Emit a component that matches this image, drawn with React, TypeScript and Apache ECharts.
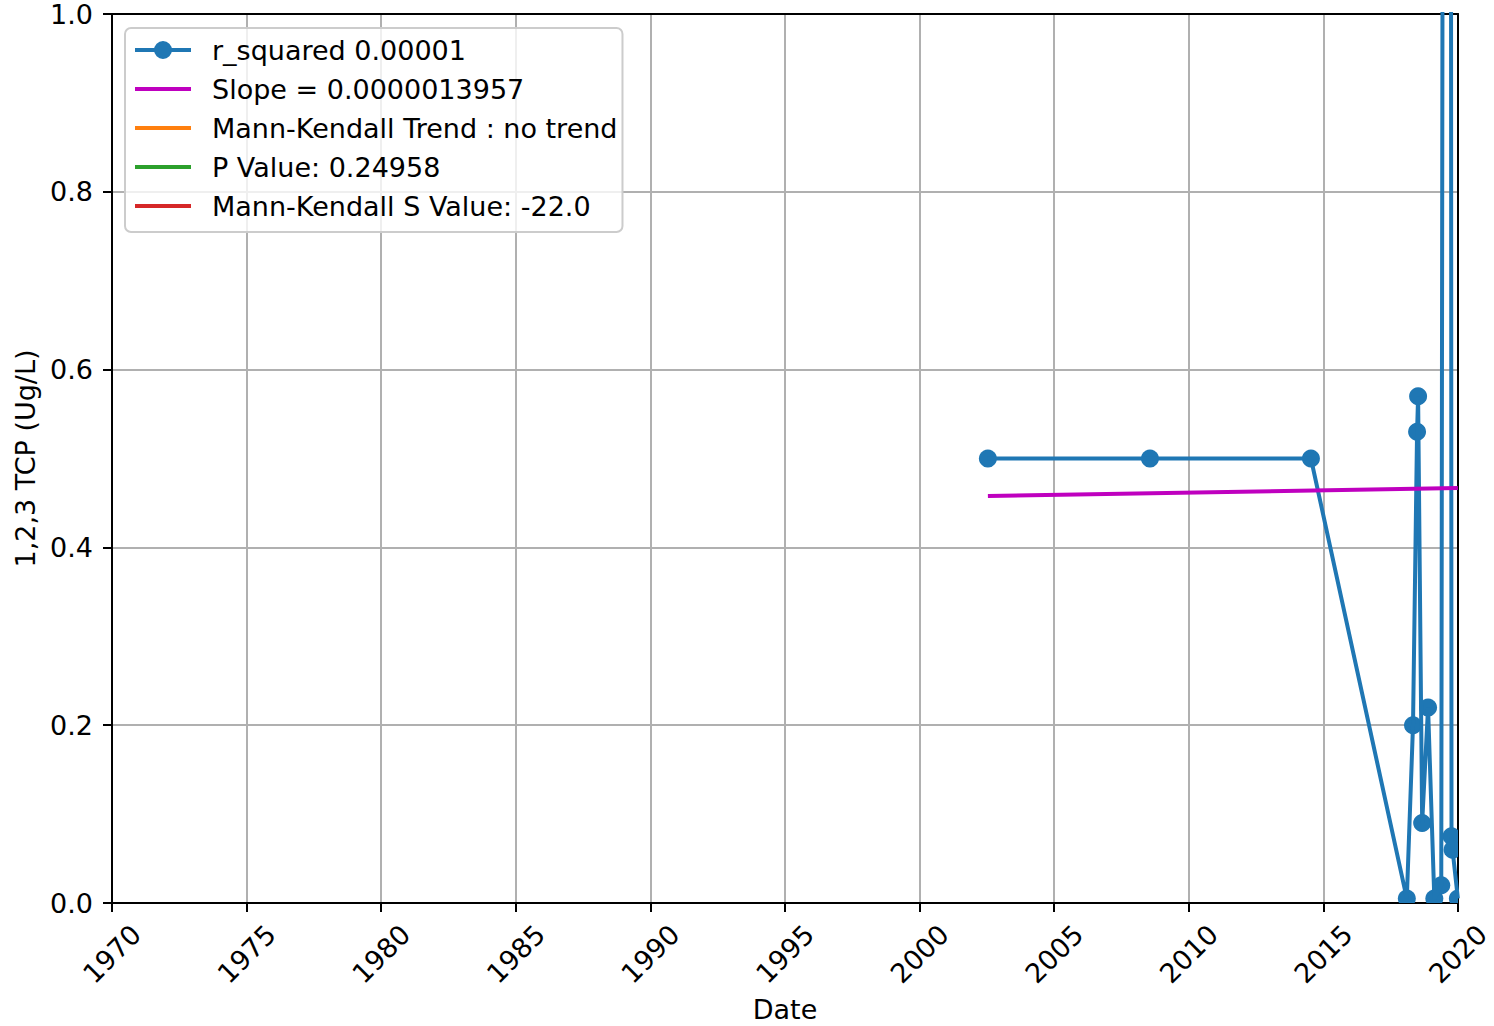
import React, { useEffect, useRef } from "react";
import * as echarts from "echarts";

const sampleDates = [
  "2002-07-16", "2008-07-23", "2014-07-16", "2018-02-06", "2018-05-01",
  "2018-06-25", "2018-07-09", "2018-09-02", "2018-11-21", "2019-02-14",
  "2019-05-19", "2019-08-26", "2019-10-05", "2019-10-19", "2019-12-30",
];
const tcpValues = [
  0.5, 0.5, 0.5, 0.005, 0.2, 0.53, 0.57, 0.09, 0.22, 0.005, 0.02, 6.0, 0.075,
  0.06, 0.005,
];
const trendDates = ["2002-07-16", "2019-12-30"];
const trendValues = [0.4578, 0.4667];

const legendNames = [
  "r_squared 0.00001",
  "Slope = 0.0000013957",
  "Mann-Kendall Trend : no trend",
  "P Value: 0.24958",
  "Mann-Kendall S Value: -22.0",
];
const seriesColors = ["#1f77b4", "#bf00bf", "#ff7f0e", "#2ca02c", "#d62728"];
const xTicks = [1970, 1975, 1980, 1985, 1990, 1995, 2000, 2005, 2010, 2015, 2020];
const yTicks = [0.0, 0.2, 0.4, 0.6, 0.8, 1.0];
const xLabel = "Date";
const yLabel = "1,2,3 TCP (Ug/L)";

function toYear(s: string): number {
  const d = new Date(s + "T00:00:00Z");
  const y = d.getUTCFullYear();
  const start = Date.UTC(y, 0, 1);
  const end = Date.UTC(y + 1, 0, 1);
  return y + (d.getTime() - start) / (end - start);
}

const FONT = "DejaVu Sans";
const FS = 27;
const LINE_ICON = "path://M0,7H56V11H0Z";
const MARKER_ICON =
  "path://M0,7H20V11H0Z M36,7H56V11H36Z M19,9A9,9 0 1,1 37,9A9,9 0 1,1 19,9Z";

export default function App() {
  const ref = useRef<HTMLDivElement>(null);
  useEffect(() => {
    document.body.style.margin = "0";
    if (!ref.current) return;
    const chart = echarts.init(ref.current, null, { renderer: "svg" });
    const mainData = sampleDates.map((d, i) => [toYear(d), tcpValues[i]]);
    const trendData = trendDates.map((d, i) => [toYear(d), trendValues[i]]);
    const xMin = xTicks[0];
    const xMax = xTicks[xTicks.length - 1];
    const yMin = yTicks[0];
    const yMax = yTicks[yTicks.length - 1];
    const spine = { onZero: false, lineStyle: { color: "#000", width: 2 } };
    chart.setOption({
      animation: false,
      backgroundColor: "#ffffff",
      textStyle: { fontFamily: FONT },
      grid: {
        left: 112,
        right: 36,
        top: 14,
        bottom: 123,
        outerBoundsMode: "none",
        containLabel: false,
      },
      legend: {
        orient: "vertical",
        left: 125,
        top: 28,
        padding: [8.5, 5, 12.5, 10],
        itemGap: 12,
        itemWidth: 56,
        itemHeight: 18,
        backgroundColor: "rgba(255,255,255,0.8)",
        borderColor: "#cccccc",
        borderWidth: 2,
        borderRadius: 6,
        data: legendNames.map((n, i) => ({
          name: n,
          icon: i === 0 ? MARKER_ICON : LINE_ICON,
        })),
        textStyle: {
          fontFamily: FONT,
          fontSize: FS,
          color: "#000000",
          padding: [0, 0, 0, 16],
        },
      },
      xAxis: [
        {
          type: "value",
          min: xMin,
          max: xMax,
          interval: 5,
          name: xLabel,
          nameLocation: "middle",
          nameGap: 93,
          nameTextStyle: { fontFamily: FONT, fontSize: FS, color: "#000" },
          axisLine: spine,
          axisTick: { show: true, length: 9, lineStyle: { color: "#000", width: 2 } },
          axisLabel: {
            rotate: 45,
            align: "center",
            verticalAlign: "middle",
            margin: 51,
            fontFamily: FONT,
            fontSize: FS,
            color: "#000",
            formatter: (v: number) => String(Math.round(v)),
          },
          splitLine: { show: true, lineStyle: { color: "#b0b0b0", width: 2 } },
        },
        {
          type: "value",
          position: "top",
          min: xMin,
          max: xMax,
          interval: 5,
          axisLine: spine,
          axisTick: { show: false },
          axisLabel: { show: false },
          splitLine: { show: false },
        },
      ],
      yAxis: [
        {
          type: "value",
          min: yMin,
          max: yMax,
          interval: 0.2,
          name: yLabel,
          nameLocation: "middle",
          nameGap: 73,
          nameTextStyle: { fontFamily: FONT, fontSize: FS, color: "#000" },
          axisLine: spine,
          axisTick: { show: true, length: 9, lineStyle: { color: "#000", width: 2 } },
          axisLabel: {
            margin: 19,
            fontFamily: FONT,
            fontSize: FS,
            color: "#000",
            formatter: (v: number) => v.toFixed(1),
          },
          splitLine: { show: true, lineStyle: { color: "#b0b0b0", width: 2 } },
        },
        {
          type: "value",
          position: "right",
          min: yMin,
          max: yMax,
          interval: 0.2,
          axisLine: spine,
          axisTick: { show: false },
          axisLabel: { show: false },
          splitLine: { show: false },
        },
      ],
      series: [
        {
          name: legendNames[0],
          type: "line",
          data: mainData,
          symbol: "none",
          clip: true,
          color: seriesColors[0],
          lineStyle: { color: seriesColors[0], width: 4 },
          z: 2,
        },
        {
          type: "custom",
          data: mainData,
          clip: true,
          z: 2,
          renderItem: (params: any, api: any) => {
            const p = api.coord([api.value(0), api.value(1)]);
            return {
              type: "circle",
              shape: { cx: p[0], cy: p[1], r: 9 },
              style: { fill: seriesColors[0] },
            };
          },
          tooltip: { show: false },
        },
        {
          name: legendNames[1],
          type: "line",
          data: trendData,
          symbol: "none",
          color: seriesColors[1],
          lineStyle: { color: seriesColors[1], width: 4 },
          z: 3,
        },
        ...[2, 3, 4].map((i) => ({
          name: legendNames[i],
          type: "line",
          data: [],
          symbol: "none",
          color: seriesColors[i],
          lineStyle: { color: seriesColors[i], width: 4 },
        })),
      ],
    });
    return () => chart.dispose();
  }, []);
  return <div ref={ref} style={{ width: 1494, height: 1026 }} />;
}
